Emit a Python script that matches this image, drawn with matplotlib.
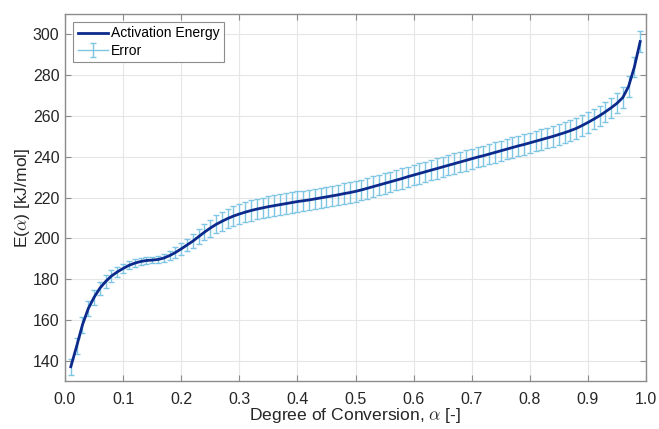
import matplotlib
matplotlib.use("Agg")
import matplotlib.pyplot as plt
import numpy as np

plt.rcParams['font.family'] = ['Liberation Sans', 'DejaVu Sans']
plt.rcParams['mathtext.fontset'] = 'cm'

alpha = [round(0.01 * i, 2) for i in range(1, 100)]

energy = [
    137.0, 147.0, 157.5, 165.5, 171.0, 175.5, 178.8, 181.5, 183.5, 185.2,
    186.7, 187.8, 188.6, 189.1, 189.3, 189.6, 190.3, 191.5, 193.0, 194.8,
    196.7, 198.6, 200.8, 203.0, 205.0, 206.8, 208.3, 209.7, 210.9, 211.9,
    212.8, 213.6, 214.3, 214.9, 215.5, 216.0, 216.5, 217.0, 217.5, 218.0,
    218.4, 218.8, 219.3, 219.8, 220.3, 220.8, 221.3, 221.9, 222.4, 223.0,
    223.7, 224.5, 225.3, 226.1, 226.9, 227.7, 228.5, 229.3, 230.2, 231.0,
    231.8, 232.6, 233.4, 234.2, 235.0, 235.8, 236.6, 237.4, 238.2, 239.0,
    239.8, 240.5, 241.3, 242.1, 242.9, 243.7, 244.5, 245.3, 246.0, 246.8,
    247.6, 248.4, 249.2, 250.0, 250.9, 251.8, 252.8, 253.9, 255.3, 256.8,
    258.4, 260.1, 262.0, 264.0, 266.2, 269.0, 274.5, 284.0, 296.5,
]

error = [
    4.0, 4.0, 4.0, 3.8, 3.5, 3.2, 3.0, 2.7, 2.5, 2.2,
    2.0, 1.8, 1.7, 1.6, 1.6, 1.7, 1.9, 2.2, 2.5, 2.8,
    3.1, 3.4, 3.7, 4.0, 4.2, 4.4, 4.6, 4.8, 4.9, 5.0,
    5.0, 5.0, 5.0, 5.0, 5.0, 5.0, 5.0, 5.0, 5.0, 5.0,
    5.0, 5.0, 5.0, 5.0, 5.0, 5.0, 5.0, 5.0, 5.0, 5.0,
    5.0, 5.0, 5.0, 5.0, 5.0, 5.0, 5.0, 5.0, 5.0, 5.0,
    5.0, 5.0, 5.0, 5.0, 5.0, 5.0, 5.0, 5.0, 5.0, 5.0,
    5.0, 5.0, 5.0, 5.0, 5.0, 5.0, 5.0, 5.0, 5.0, 5.0,
    5.0, 5.0, 5.0, 5.0, 5.0, 5.0, 5.0, 5.0, 5.0, 5.0,
    5.0, 5.0, 5.0, 5.0, 5.0, 5.0, 5.0, 5.0, 5.0,
]

xticks = [0.0, 0.1, 0.2, 0.3, 0.4, 0.5, 0.6, 0.7, 0.8, 0.9, 1.0]
yticks = [140, 160, 180, 200, 220, 240, 260, 280, 300]

line_color = '#0b2a8c'
err_color = '#7fc6e4'
text_color = '#262626'

fig = plt.figure(figsize=(6.59, 4.29), dpi=100)
ax = fig.add_axes([65 / 659, (429 - 381) / 429, (646 - 65) / 659, (381 - 14) / 429])

ax.errorbar(alpha, energy, yerr=error, fmt='none', ecolor=err_color,
            elinewidth=1.0, capsize=2.5, capthick=1.0, zorder=2)
ln, = ax.plot(alpha, energy, color=line_color, linewidth=2.0,
              label='Activation Energy', zorder=3)
# legend proxy (not drawn: NaN data) so the legend shows line + error bar
proxy = ax.errorbar([np.nan], [np.nan], yerr=[1.0], fmt='-', color=err_color,
                    ecolor=err_color, linewidth=1.0, elinewidth=1.0,
                    capsize=2.5, capthick=1.0, label='Error')

ax.set_xlim(0, 1)
ax.set_ylim(130, 310)
ax.set_xticks(xticks)
ax.set_xticklabels([f'{t:.1f}' for t in xticks])
ax.set_yticks(yticks)

ax.grid(True, color='#e6e6e6', linewidth=0.8)
ax.set_axisbelow(True)
for s in ax.spines.values():
    s.set_color('#8c8c8c')
    s.set_linewidth(1.0)
ax.tick_params(direction='in', top=True, right=True, length=4,
               color='#8c8c8c', labelsize=11.5, labelcolor=text_color)
ax.tick_params(axis='x', pad=8)
ax.tick_params(axis='y', pad=4)

ax.set_xlabel(r'Degree of Conversion, $\alpha$ [-]', fontsize=12.6, color=text_color, labelpad=-1)
ax.set_ylabel(r'E($\alpha$) [kJ/mol]', fontsize=12.6, color=text_color, labelpad=0.5)

leg = ax.legend(handles=[ln, proxy], loc='upper left', fontsize=10,
                fancybox=False, framealpha=1, edgecolor='#8c8c8c',
                borderpad=0.3, handlelength=2.2, handletextpad=0.2,
                labelspacing=0.25, borderaxespad=0.6)
leg.get_frame().set_linewidth(0.8)

fig.savefig('out.png', dpi=100)
